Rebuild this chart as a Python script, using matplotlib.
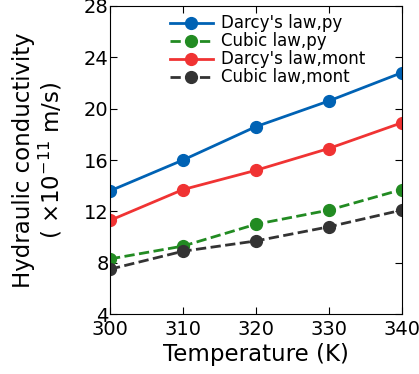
import matplotlib
matplotlib.use("Agg")
import matplotlib.pyplot as plt

temperature = [300, 310, 320, 330, 340]
darcy_py = [13.6, 16.0, 18.6, 20.6, 22.8]
cubic_py = [8.3, 9.3, 11.0, 12.1, 13.7]
darcy_mont = [11.3, 13.7, 15.2, 16.9, 18.9]
cubic_mont = [7.5, 8.9, 9.7, 10.8, 12.1]

fig = plt.figure(figsize=(4.19, 3.74), dpi=100)
ax = fig.add_axes([0.2625, 0.16, 0.696, 0.824])

ax.plot(temperature, darcy_py, "-o", color="#0062b4", lw=2, ms=8.5, label="Darcy's law,py")
ax.plot(temperature, cubic_py, "--o", color="#228b22", lw=2, ms=8.5, label="Cubic law,py")
ax.plot(temperature, darcy_mont, "-o", color="#f03333", lw=2, ms=8.5, label="Darcy's law,mont")
ax.plot(temperature, cubic_mont, "--o", color="#333333", lw=2, ms=8.5, label="Cubic law,mont")

ax.set_xlim(300, 340)
ax.set_ylim(4, 28)
ax.set_xticks([300, 310, 320, 330, 340])
ax.set_yticks([4, 8, 12, 16, 20, 24, 28])
ax.tick_params(direction="in", top=True, right=True, labelsize=14, length=5)
ax.tick_params(axis="x", pad=4)
ax.tick_params(axis="y", pad=1)
ax.set_xlabel("Temperature (K)", fontsize=16.5, labelpad=3)
ax.set_ylabel("Hydraulic conductivity\n" + r"( $\times$10$^{\mathregular{-11}}$ m/s)",
              fontsize=16.5, labelpad=14, linespacing=1.1)
ax.legend(loc="upper left", bbox_to_anchor=(0.17, 1.005), frameon=False, fontsize=12,
          handlelength=2.6, labelspacing=0.0, borderaxespad=0.2, handletextpad=0.5)

fig.savefig("out.png", dpi=100)
